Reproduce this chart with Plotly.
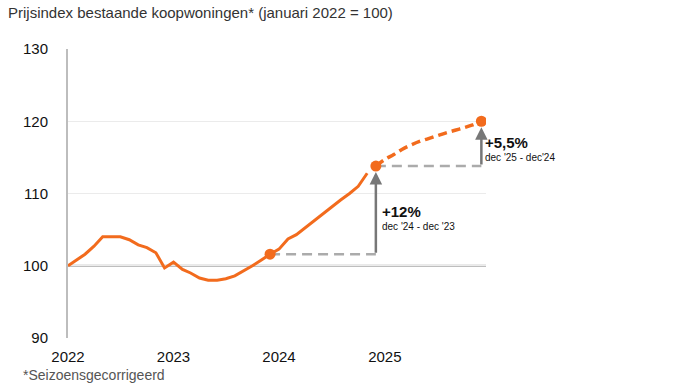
import plotly.graph_objects as go
import pandas as pd

# ---- data ----
months_actual = pd.date_range("2022-01-01", "2024-11-01", freq="MS").strftime("%Y-%m-%d").tolist()
index_actual = [100.0, 100.8, 101.6, 102.7, 104.0, 104.0, 104.0, 103.6, 102.9, 102.5, 101.8, 99.7,
                100.5, 99.5, 99.0, 98.3, 98.0, 98.0, 98.2, 98.6, 99.3, 100.0, 100.8, 101.6,
                102.3, 103.7, 104.3, 105.3, 106.2, 107.2, 108.1, 109.1, 110.0, 111.0, 112.8]
months_forecast = pd.date_range("2024-12-01", "2025-12-01", freq="MS").strftime("%Y-%m-%d").tolist()
index_forecast = [113.8, 114.7, 115.4, 116.1, 116.7, 117.2, 117.6, 118.0, 118.4, 118.75, 119.1, 119.5, 120.0]

ref_dec23 = ("2023-12-01", 101.6)
year_ticks = ["2022-01-01", "2023-01-01", "2024-01-01", "2025-01-01"]
year_labels = ["2022", "2023", "2024", "2025"]

title_text = "Prijsindex bestaande koopwoningen* (januari 2022 = 100)"
footnote = "*Seizoensgecorrigeerd"
ann1 = ("+12%", "dec '24 - dec '23")
ann2 = ("+5,5%", "dec '25 - dec'24")

ORANGE = "#F26B1D"
GREY_DASH = "#ABABAB"
ARROW = "#777777"
FONT = "Liberation Sans, Arial, sans-serif"

fig = go.Figure()

# grey dashed reference lines
fig.add_trace(go.Scatter(x=[ref_dec23[0], months_forecast[0]], y=[ref_dec23[1], ref_dec23[1]],
                         mode="lines", line=dict(color=GREY_DASH, width=2.5, dash="10px,6px"),
                         hoverinfo="skip", showlegend=False))
fig.add_trace(go.Scatter(x=[months_forecast[0], months_forecast[-1]], y=[index_forecast[0], index_forecast[0]],
                         mode="lines", line=dict(color=GREY_DASH, width=2.5, dash="10px,6px"),
                         hoverinfo="skip", showlegend=False))

# actual line
fig.add_trace(go.Scatter(x=months_actual, y=index_actual, mode="lines",
                         line=dict(color=ORANGE, width=3), showlegend=False))
# forecast dashed
fig.add_trace(go.Scatter(x=months_forecast, y=index_forecast, mode="lines",
                         line=dict(color=ORANGE, width=3.5, dash="9px,5px", shape="spline"),
                         showlegend=False))
# markers
fig.add_trace(go.Scatter(x=[ref_dec23[0], months_forecast[0], months_forecast[-1]],
                         y=[ref_dec23[1], index_forecast[0], index_forecast[-1]],
                         mode="markers", marker=dict(color=ORANGE, size=11),
                         showlegend=False))

# 100 baseline
fig.add_shape(type="line", xref="paper", x0=0, x1=1, yref="y", y0=100, y1=100,
              line=dict(color="#A8A8A8", width=2), layer="below")

ML, MT, PW, PH = 68, 49, 418, 289

annotations = [
    dict(x=months_forecast[0], y=index_forecast[0], ax=months_forecast[0], ay=ref_dec23[1],
         xref="x", yref="y", axref="x", ayref="y", text="", showarrow=True,
         arrowhead=2, arrowsize=1, arrowwidth=2.5, arrowcolor=ARROW, standoff=6),
    dict(x=months_forecast[-1], y=index_forecast[-1], ax=months_forecast[-1], ay=index_forecast[0],
         xref="x", yref="y", axref="x", ayref="y", text="", showarrow=True,
         arrowhead=2, arrowsize=1, arrowwidth=2.5, arrowcolor=ARROW, standoff=6),
    dict(x=months_forecast[0], y=107.5, xref="x", yref="y", xanchor="left", xshift=4,
         text="<b>" + ann1[0] + "</b>", showarrow=False, font=dict(size=15, color="#111", family=FONT)),
    dict(x=months_forecast[0], y=105.4, xref="x", yref="y", xanchor="left", xshift=4,
         text=ann1[1], showarrow=False, font=dict(size=10, color="#111", family=FONT)),
    dict(x=months_forecast[-1], y=117.1, xref="x", yref="y", xanchor="left", xshift=2,
         text="<b>" + ann2[0] + "</b>", showarrow=False, font=dict(size=15, color="#111", family=FONT)),
    dict(x=months_forecast[-1], y=115.0, xref="x", yref="y", xanchor="left", xshift=2,
         text=ann2[1], showarrow=False, font=dict(size=10, color="#111", family=FONT)),
    dict(text=title_text, xref="paper", yref="paper", x=(6 - ML) / PW, y=1 + (MT - 12) / PH,
         xanchor="left", yanchor="middle", showarrow=False,
         font=dict(size=15, color="#333", family=FONT)),
    dict(text=footnote, xref="paper", yref="paper", x=(21 - ML) / PW, y=-(375 - MT - PH) / PH,
         xanchor="left", yanchor="middle", showarrow=False,
         font=dict(size=14, color="#555", family=FONT)),
]

fig.update_layout(
    width=686, height=386,
    margin=dict(l=ML, r=686 - ML - PW, t=MT, b=386 - MT - PH, autoexpand=False),
    paper_bgcolor="white", plot_bgcolor="white",
    font=dict(family=FONT, size=15, color="#222"),
    showlegend=False,
    annotations=annotations,
)

fig.update_xaxes(range=["2022-01-01", "2025-12-17"], tickvals=year_ticks, ticktext=year_labels,
                 showgrid=False, showline=False, zeroline=False, ticks="",
                 ticklabelstandoff=8, tickfont=dict(size=15, color="#111"))
fig.update_yaxes(range=[90, 130], tickvals=[90, 100, 110, 120, 130], showgrid=True,
                 gridcolor="#EBEBEB", gridwidth=1, showline=True, linecolor="#BDBDBD", linewidth=2,
                 zeroline=False, ticks="", ticklabelstandoff=15, tickfont=dict(size=15, color="#111"))

fig.write_html("out.html", config={"displayModeBar": False},
               post_script="document.body.style.margin='0';")
